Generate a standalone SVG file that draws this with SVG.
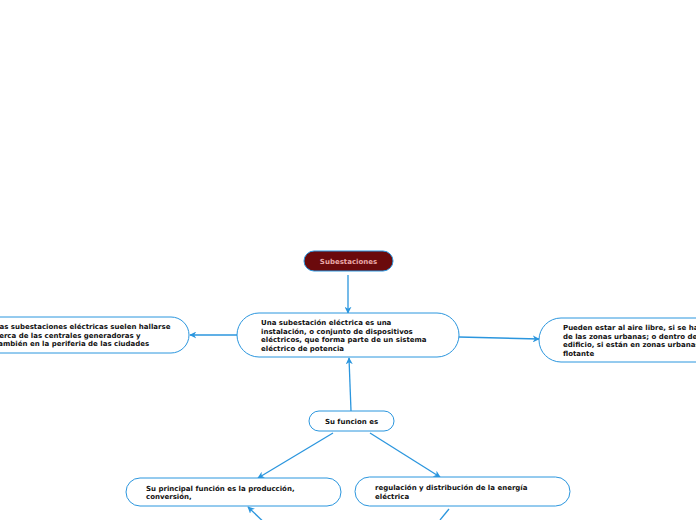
<svg xmlns="http://www.w3.org/2000/svg" width="696" height="520" viewBox="0 0 696 520">
<style>
.n{fill:#fff;stroke:#2b96de;stroke-width:1}
.t{font-family:"DejaVu Sans",Verdana,sans-serif;font-weight:bold;font-size:7px;fill:#111}
.c{stroke:#2b96de;stroke-width:1.3;fill:none}
</style>
<defs>
<marker id="a" viewBox="0 0 10 10" refX="9" refY="5" markerWidth="7" markerHeight="7" orient="auto" markerUnits="userSpaceOnUse">
<path d="M0,0 L10,5 L0,10 L3,5 z" fill="#2b96de"/>
</marker>
</defs>
<rect width="696" height="520" fill="#fff"/>
<g id="connectors">
<line class="c" x1="348" y1="275" x2="348" y2="313" marker-end="url(#a)"/>
<line class="c" x1="237" y1="335" x2="190" y2="335" marker-end="url(#a)"/>
<line class="c" x1="459" y1="337" x2="539" y2="339" marker-end="url(#a)"/>
<line class="c" x1="351" y1="411" x2="349" y2="358" marker-end="url(#a)"/>
<line class="c" x1="333" y1="433" x2="258" y2="478" marker-end="url(#a)"/>
<line class="c" x1="370" y1="433" x2="440" y2="477" marker-end="url(#a)"/>
<line class="c" x1="272" y1="530" x2="248" y2="507" marker-end="url(#a)"/>
<line class="c" x1="449" y1="509" x2="440" y2="520"/>
</g>
<g id="root">
<rect x="304" y="251" width="89" height="20" rx="10" fill="#6b0a0c" stroke="#2b96de"/>
<text x="348.5" y="263.5" text-anchor="middle" class="t" style="fill:#eaa8a8">Subestaciones</text>
</g>
<g id="central">
<rect class="n" x="237" y="313" width="222" height="44" rx="22"/>
<text class="t" x="261" y="325">Una subestación eléctrica es una</text>
<text class="t" x="261" y="333.5">instalación, o conjunto de dispositivos</text>
<text class="t" x="261" y="342">eléctricos, que forma parte de un sistema</text>
<text class="t" x="261" y="350.5">eléctrico de potencia</text>
</g>
<g id="left">
<rect class="n" x="-20" y="317" width="209" height="36" rx="18"/>
<text class="t" x="-5" y="329">Las subestaciones eléctricas suelen hallarse</text>
<text class="t" x="-5" y="337.5">cerca de las centrales generadoras y</text>
<text class="t" x="-5" y="346">también en la periferia de las ciudades</text>
</g>
<g id="right">
<rect class="n" x="539" y="318" width="180" height="44" rx="22"/>
<text class="t" x="563" y="330">Pueden estar al aire libre, si se hallan fuera</text>
<text class="t" x="563" y="338.5">de las zonas urbanas; o dentro de un</text>
<text class="t" x="563" y="347">edificio, si están en zonas urbanas o en tierra</text>
<text class="t" x="563" y="355.5">flotante</text>
</g>
<g id="funcion">
<rect class="n" x="309" y="411" width="85" height="20" rx="10"/>
<text class="t" x="351.5" y="423.5" text-anchor="middle">Su funcion es</text>
</g>
<g id="bl">
<rect class="n" x="126" y="478" width="215" height="28" rx="14"/>
<text class="t" x="146" y="490.5">Su principal función es la producción,</text>
<text class="t" x="146" y="499">conversión,</text>
</g>
<g id="br">
<rect class="n" x="355" y="477" width="215" height="29" rx="14.5"/>
<text class="t" x="375" y="490">regulación y distribución de la energía</text>
<text class="t" x="375" y="498.5">eléctrica</text>
</g>
</svg>
